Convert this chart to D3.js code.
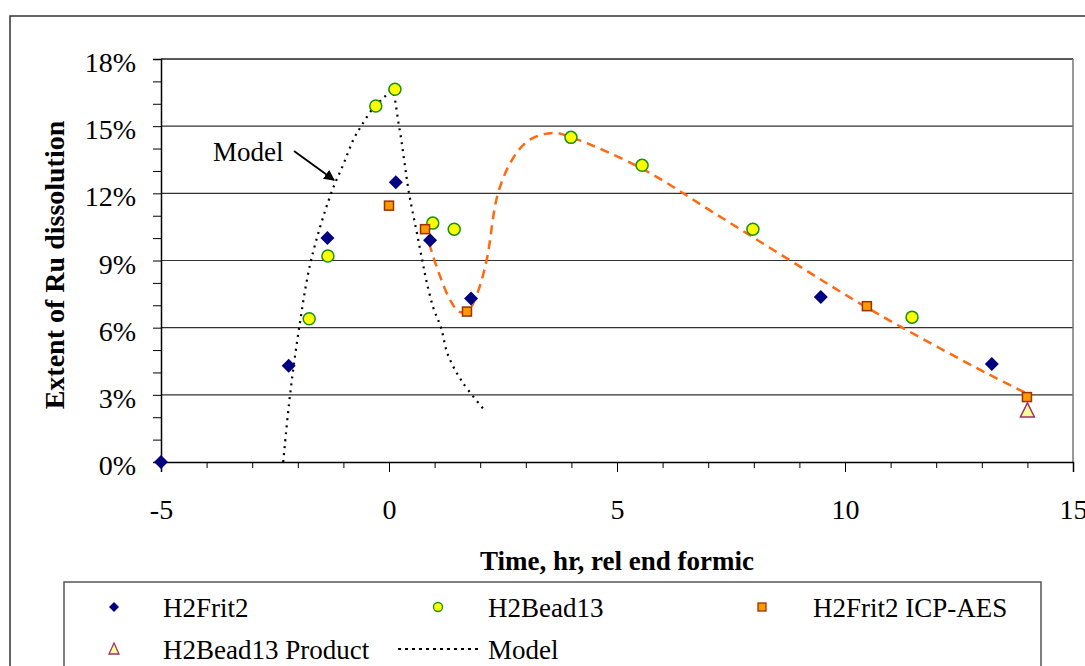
<!DOCTYPE html>
<html>
<head>
<meta charset="utf-8">
<script src="https://cdn.jsdelivr.net/npm/d3@7"></script>
<style>
  body { margin: 0; background: #fff; }
  svg { display: block; font-family: "Liberation Serif", "Times New Roman", serif; }
  .axis path, .axis line { stroke: #000; }
  .axis text { font-size: 28px; fill: #000; font-family: "Liberation Serif", serif; }
</style>
</head>
<body>
<script>
// data (x = hours rel end formic, y = % Ru dissolved)
var frit2X = [-5, -2.2, -1.35, 0.15, 0.9, 1.8, 9.47, 13.22];
var frit2Y = [0, 4.3, 10.0, 12.5, 9.9, 7.3, 7.37, 4.38];

var bead13X = [-1.75, -1.34, -0.29, 0.13, 0.96, 1.43, 3.99, 5.55, 7.98, 11.47];
var bead13Y = [6.4, 9.2, 15.9, 16.65, 10.67, 10.4, 14.5, 13.25, 10.4, 6.47];

var icpX = [0, 0.79, 1.71, 10.48, 13.99];
var icpY = [11.45, 10.4, 6.72, 6.96, 2.9];

var productX = [14];
var productY = [2.28];

var modelX = [-2.32, -2.17, -1.97, -1.71, -1.27, -1.0, -0.78, -0.61, -0.35, -0.1, 0.05, 0.22, 0.44, 0.6, 0.73, 0.82, 0.97, 1.14, 1.29, 1.6, 2.1];
var modelY = [0, 3, 6, 9, 12, 13.3, 14.4, 15, 15.8, 16.3, 16.6, 15, 12, 10.35, 9, 8.1, 6.9, 6.0, 4.8, 3.6, 2.3];

// orange dashed trend through the frit/bead data
var trendX = [0.88, 1.1, 1.35, 1.55, 1.75, 1.93, 2.14, 2.39, 2.73, 3.09, 3.6, 4.0, 5.55, 7.1, 8.8, 10.48, 13.1, 14.0];
var trendY = [9.76, 8.4, 7.2, 6.7, 6.8, 7.5, 9.0, 12.0, 13.6, 14.4, 14.7, 14.5, 13.1, 11.16, 9.0, 6.9, 3.97, 3.05];

var xMajorTicks = [-5, 0, 5, 10, 15];
var xMinorTicks = d3.range(-5, 16, 1);
var yTicks = d3.range(0, 19, 1);
var yGrid = [3, 6, 9, 12, 15];

var legendNames = ["H2Frit2", "H2Bead13", "H2Frit2 ICP-AES", "H2Bead13 Product", "Model"];

function zip(xs, ys) {
    return xs.map(function(x, i) { return {x: x, y: ys[i]}; });
}

var W = 1085, H = 666;
var margin = {top: 59, left: 161, right: 1073, bottom: 462};

var x = d3.scaleLinear().domain([-5, 15]).range([margin.left, margin.right]);
var y = d3.scaleLinear().domain([0, 18]).range([margin.bottom, margin.top]);

var svg = d3.select("body").append("svg")
    .attr("width", W)
    .attr("height", H);

svg.append("defs").append("marker")
    .attr("id", "arrow")
    .attr("viewBox", "0 0 10 10")
    .attr("refX", 9).attr("refY", 5)
    .attr("markerWidth", 6).attr("markerHeight", 6)
    .attr("orient", "auto")
    .append("path")
    .attr("d", "M0,0L10,5L0,10z")
    .attr("fill", "#000");

// outer chart frame
svg.append("rect")
    .attr("x", 10).attr("y", 16)
    .attr("width", 1100).attr("height", 700)
    .attr("fill", "none")
    .attr("stroke", "#333")
    .attr("stroke-width", 1.5);

// gridlines
svg.selectAll(".grid")
    .data(yGrid)
    .enter().append("line")
    .attr("class", "grid")
    .attr("x1", x(-5)).attr("x2", x(15))
    .attr("y1", function(d) { return y(d); })
    .attr("y2", function(d) { return y(d); })
    .attr("stroke", "#333")
    .attr("stroke-width", 1.2);

// plot border (top + right)
svg.append("line")
    .attr("x1", x(-5)).attr("x2", x(15))
    .attr("y1", y(18)).attr("y2", y(18))
    .attr("stroke", "#222").attr("stroke-width", 1.5);
svg.append("line")
    .attr("x1", x(15)).attr("x2", x(15))
    .attr("y1", y(18)).attr("y2", y(0))
    .attr("stroke", "#777").attr("stroke-width", 1.5);

// y axis
var yAxis = svg.append("g")
    .attr("class", "axis")
    .attr("transform", "translate(" + margin.left + ",0)")
    .call(d3.axisLeft(y)
        .tickValues(yTicks)
        .tickSize(8)
        .tickPadding(17)
        .tickFormat(function(d) { return d % 3 === 0 ? d + "%" : ""; }));
yAxis.select(".domain").attr("stroke-width", 1.5);
yAxis.selectAll("text").attr("dy", "0.45em");

// x axis, minor ticks then labelled major ticks (plain hyphen for negatives)
svg.append("g")
    .attr("class", "axis")
    .attr("transform", "translate(0," + margin.bottom + ")")
    .call(d3.axisBottom(x).tickValues(xMinorTicks).tickSize(6).tickFormat(""));
var xAxis = svg.append("g")
    .attr("class", "axis")
    .attr("transform", "translate(0," + margin.bottom + ")")
    .call(d3.axisBottom(x)
        .tickValues(xMajorTicks)
        .tickSize(10)
        .tickPadding(27)
        .tickFormat(function(d) { return String(d); }));
xAxis.select(".domain").attr("stroke-width", 1.5);

// axis titles
svg.append("text")
    .attr("transform", "translate(64,265) rotate(-90)")
    .attr("text-anchor", "middle")
    .style("font-size", "28px")
    .style("font-weight", "bold")
    .text("Extent of Ru dissolution");

svg.append("text")
    .attr("x", 617).attr("y", 570)
    .attr("text-anchor", "middle")
    .style("font-size", "27px")
    .style("font-weight", "bold")
    .text("Time, hr, rel end formic");

// model (dotted) and trend (dashed)
var line = d3.line()
    .x(function(d) { return x(d.x); })
    .y(function(d) { return y(d.y); });

svg.append("path")
    .datum(zip(modelX, modelY))
    .attr("d", line.curve(d3.curveCatmullRom))
    .attr("fill", "none")
    .attr("stroke", "#000")
    .attr("stroke-width", 2.2)
    .attr("stroke-dasharray", "2,5");

svg.append("path")
    .datum(zip(trendX, trendY))
    .attr("d", line.curve(d3.curveCatmullRom))
    .attr("fill", "none")
    .attr("stroke", "#ff6a10")
    .attr("stroke-width", 2.5)
    .attr("stroke-dasharray", "9,6");

// markers
var diamond = "M0,-7L7,0L0,7L-7,0Z";
var triangle = "M0,-8L7,6L-7,6Z";

svg.selectAll(".frit")
    .data(zip(frit2X, frit2Y))
    .enter().append("path")
    .attr("class", "frit")
    .attr("d", diamond)
    .attr("transform", function(d) { return "translate(" + x(d.x) + "," + y(d.y) + ")"; })
    .attr("fill", "#000080");

svg.selectAll(".bead")
    .data(zip(bead13X, bead13Y))
    .enter().append("circle")
    .attr("class", "bead")
    .attr("cx", function(d) { return x(d.x); })
    .attr("cy", function(d) { return y(d.y); })
    .attr("r", 6)
    .attr("fill", "#ffff00")
    .attr("stroke", "#169116")
    .attr("stroke-width", 1.5);

svg.selectAll(".icp")
    .data(zip(icpX, icpY))
    .enter().append("rect")
    .attr("class", "icp")
    .attr("x", function(d) { return x(d.x) - 4.5; })
    .attr("y", function(d) { return y(d.y) - 4.5; })
    .attr("width", 9).attr("height", 9)
    .attr("fill", "#ff9900")
    .attr("stroke", "#993300")
    .attr("stroke-width", 1.5);

svg.selectAll(".prod")
    .data(zip(productX, productY))
    .enter().append("path")
    .attr("class", "prod")
    .attr("d", triangle)
    .attr("transform", function(d) { return "translate(" + x(d.x) + "," + y(d.y) + ")"; })
    .attr("fill", "#ffff99")
    .attr("stroke", "#993366")
    .attr("stroke-width", 1.5);

// "Model" annotation
svg.append("text")
    .attr("x", 213).attr("y", 161)
    .style("font-size", "27px")
    .text("Model");
svg.append("line")
    .attr("x1", 294).attr("y1", 151)
    .attr("x2", 334).attr("y2", 180)
    .attr("stroke", "#000")
    .attr("stroke-width", 1.8)
    .attr("marker-end", "url(#arrow)");

// legend
svg.append("rect")
    .attr("x", 64).attr("y", 582)
    .attr("width", 977).attr("height", 120)
    .attr("fill", "#fff")
    .attr("stroke", "#555")
    .attr("stroke-width", 1.5);

var legendPos = [
    {mx: 114, tx: 163, cy: 607},
    {mx: 438, tx: 488, cy: 607},
    {mx: 762, tx: 813, cy: 607},
    {mx: 114, tx: 163, cy: 649},
    {mx: 438, tx: 488, cy: 649}
];

var leg = svg.selectAll(".legend")
    .data(legendNames)
    .enter().append("g")
    .attr("class", "legend")
    .attr("transform", function(d, i) { return "translate(0," + legendPos[i].cy + ")"; });

leg.append("text")
    .attr("x", function(d, i) { return legendPos[i].tx; })
    .attr("y", 10)
    .style("font-size", "27px")
    .text(function(d) { return d; });

var l0 = legendPos[0], l1 = legendPos[1], l2 = legendPos[2], l3 = legendPos[3];
svg.append("path")
    .attr("d", "M0,-5L5,0L0,5L-5,0Z")
    .attr("transform", "translate(" + l0.mx + "," + l0.cy + ")")
    .attr("fill", "#000080");
svg.append("circle")
    .attr("cx", l1.mx).attr("cy", l1.cy).attr("r", 4.5)
    .attr("fill", "#ffff00").attr("stroke", "#169116").attr("stroke-width", 1.3);
svg.append("rect")
    .attr("x", l2.mx - 4).attr("y", l2.cy - 4)
    .attr("width", 8).attr("height", 8)
    .attr("fill", "#ff9900").attr("stroke", "#993300").attr("stroke-width", 1.3);
svg.append("path")
    .attr("d", "M0,-6L5,5L-5,5Z")
    .attr("transform", "translate(" + l3.mx + "," + l3.cy + ")")
    .attr("fill", "#ffff99").attr("stroke", "#993366").attr("stroke-width", 1.3);
svg.append("line")
    .attr("x1", 398).attr("x2", 478)
    .attr("y1", legendPos[4].cy).attr("y2", legendPos[4].cy)
    .attr("stroke", "#000")
    .attr("stroke-width", 2.2)
    .attr("stroke-dasharray", "3,4");
</script>
</body>
</html>
